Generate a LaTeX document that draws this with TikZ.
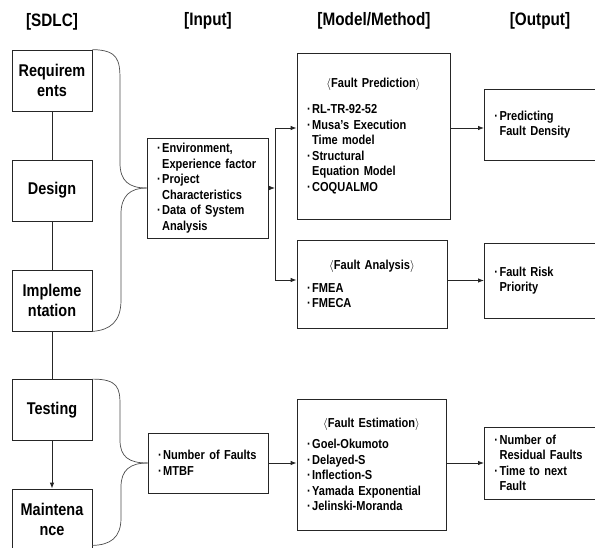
\documentclass[tikz,border=0pt]{standalone}
\usepackage{fontspec}
\setmainfont{Liberation Sans}[FakeStretch=0.85]
\usetikzlibrary{arrows.meta,calc}
\newcommand\bl[1]{\mbox{·\hspace{1.5pt}#1}}
\newcommand\cl[1]{\mbox{\hphantom{·\hspace{1.5pt}}#1}}
\begin{document}
\begin{tikzpicture}[x=1pt,y=-1pt,
  line/.style={draw=black!85, line width=0.8pt},
  brace/.style={draw=black!70, line width=0.7pt},
  arr/.style={line, -{Latex[length=6pt,width=4.5pt]}},
  head/.style={font=\bfseries\fontsize{18}{20}\selectfont},
  phase/.style={line, fill=white, minimum width=80pt, minimum height=61pt, inner sep=0pt,
    align=center, font=\bfseries\fontsize{17}{20}\selectfont},
  info/.style={line, fill=white, inner xsep=10pt, inner ysep=0pt,
    font=\bfseries\fontsize{13}{15.5}\selectfont}
]
\useasboundingbox (0,0) rectangle (595,547);

% headers
\node[head] (hsdlc) at (52,22) {[SDLC]};
\node[head] (hinp) at (208,21) {[Input]};
\node[head] (hmod) at (374,21) {[Model/Method]};
\node[head] (hout) at (540,21) {[Output]};

% SDLC phases
\node[phase] (req) at (52,80.5) {Requirem\\ents};
\node[phase] (des) at (52,190.5) {Design};
\node[phase] (imp) at (52,300.5) {Impleme\\ntation};
\node[phase] (tst) at (52,410) {Testing};
\node[phase, minimum height=60pt] (mnt) at (52,519) {Maintena\\nce};

\draw[line] (req.south) -- (des.north);
\draw[line] (des.south) -- (imp.north);
\draw[line] (imp.south) -- (tst.north);
\draw[arr] (tst.south) -- (mnt.north);

% inputs
\node[info, text width=101pt, minimum height=100pt] (inp1) at (207.5,188) {\raggedright
\bl{Environment,}\\\cl{Experience factor}\\\bl{Project}\\\cl{Characteristics}\\\bl{Data of System}\\\cl{Analysis}};
\node[info, text width=100pt, minimum height=60pt] (inp2) at (208,463) {\raggedright
\bl{Number of Faults}\\\bl{MTBF}};

% braces
\draw[brace] (req.north east) .. controls (118,50) and (120,60) .. (120,80) -- (120,163)
  .. controls (120,181) and (129,188) .. (inp1.west);
\draw[brace] (inp1.west) .. controls (130,188) and (121,196) .. (121,214) -- (121,300)
  .. controls (121,322) and (110,330) .. (imp.south east);
\draw[brace] (tst.north east) .. controls (118,379) and (120,388) .. (120,405) -- (120,440)
  .. controls (120,457) and (129,463) .. (inp2.west);
\draw[brace] (inp2.west) .. controls (130,463) and (121,470) .. (121,487) -- (121,518)
  .. controls (121,538) and (110,545) .. ([yshift=4pt]mnt.south east);

% methods
\node[info, text width=133pt, minimum height=166pt] (fp) at (373.5,136) {\centering
$\langle$Fault Prediction$\rangle$\par\vspace{11pt}\raggedright
\bl{RL-TR-92-52}\\\bl{Musa's Execution}\\\cl{Time model}\\\bl{Structural}\\\cl{Equation Model}\\\bl{COQUALMO}};
\node[info, text width=130pt, minimum height=88pt] (fa) at (372,284) {\centering
$\langle$Fault Analysis$\rangle$\par\vspace{7.5pt}\raggedright
\bl{FMEA}\\\bl{FMECA}};
\node[info, text width=129pt, minimum height=131pt] (fe) at (371.5,464.5) {\centering
$\langle$Fault Estimation$\rangle$\par\vspace{5.5pt}\raggedright
\bl{Goel-Okumoto}\\\bl{Delayed-S}\\\bl{Inflection-S}\\\bl{Yamada Exponential}\\\bl{Jelinski-Moranda}};

% outputs
\node[info, anchor=west, text width=100pt, minimum height=71pt] (o1) at (484,124.5) {\raggedright
\bl{Predicting}\\\cl{Fault Density}};
\node[info, anchor=west, text width=100pt, minimum height=75pt] (o2) at (484,280.5) {\raggedright
\bl{Fault Risk}\\\cl{Priority}};
\node[info, anchor=west, text width=100pt, minimum height=72pt] (o3) at (484,463) {\raggedright
\bl{Number of}\\\cl{Residual Faults}\\\bl{Time to next}\\\cl{Fault}};

% connectors
\coordinate (jt) at (275,128);
\coordinate (jb) at (275,280);
\draw[line] (jt) -- (jb);
\draw[arr] (inp1.east) -- (inp1.east -| jt);
\draw[arr] (jt) -- (jt -| fp.west);
\draw[arr] (jb) -- (jb -| fa.west);
\draw[arr] (fp.east |- jt) -- (o1.west |- jt);
\draw[arr] (fa.east |- o2.west) -- (o2.west);
\draw[arr] (inp2.east) -- (inp2.east -| fe.west);
\draw[arr] (fe.east |- o3.west) -- (o3.west);
\end{tikzpicture}
\end{document}
